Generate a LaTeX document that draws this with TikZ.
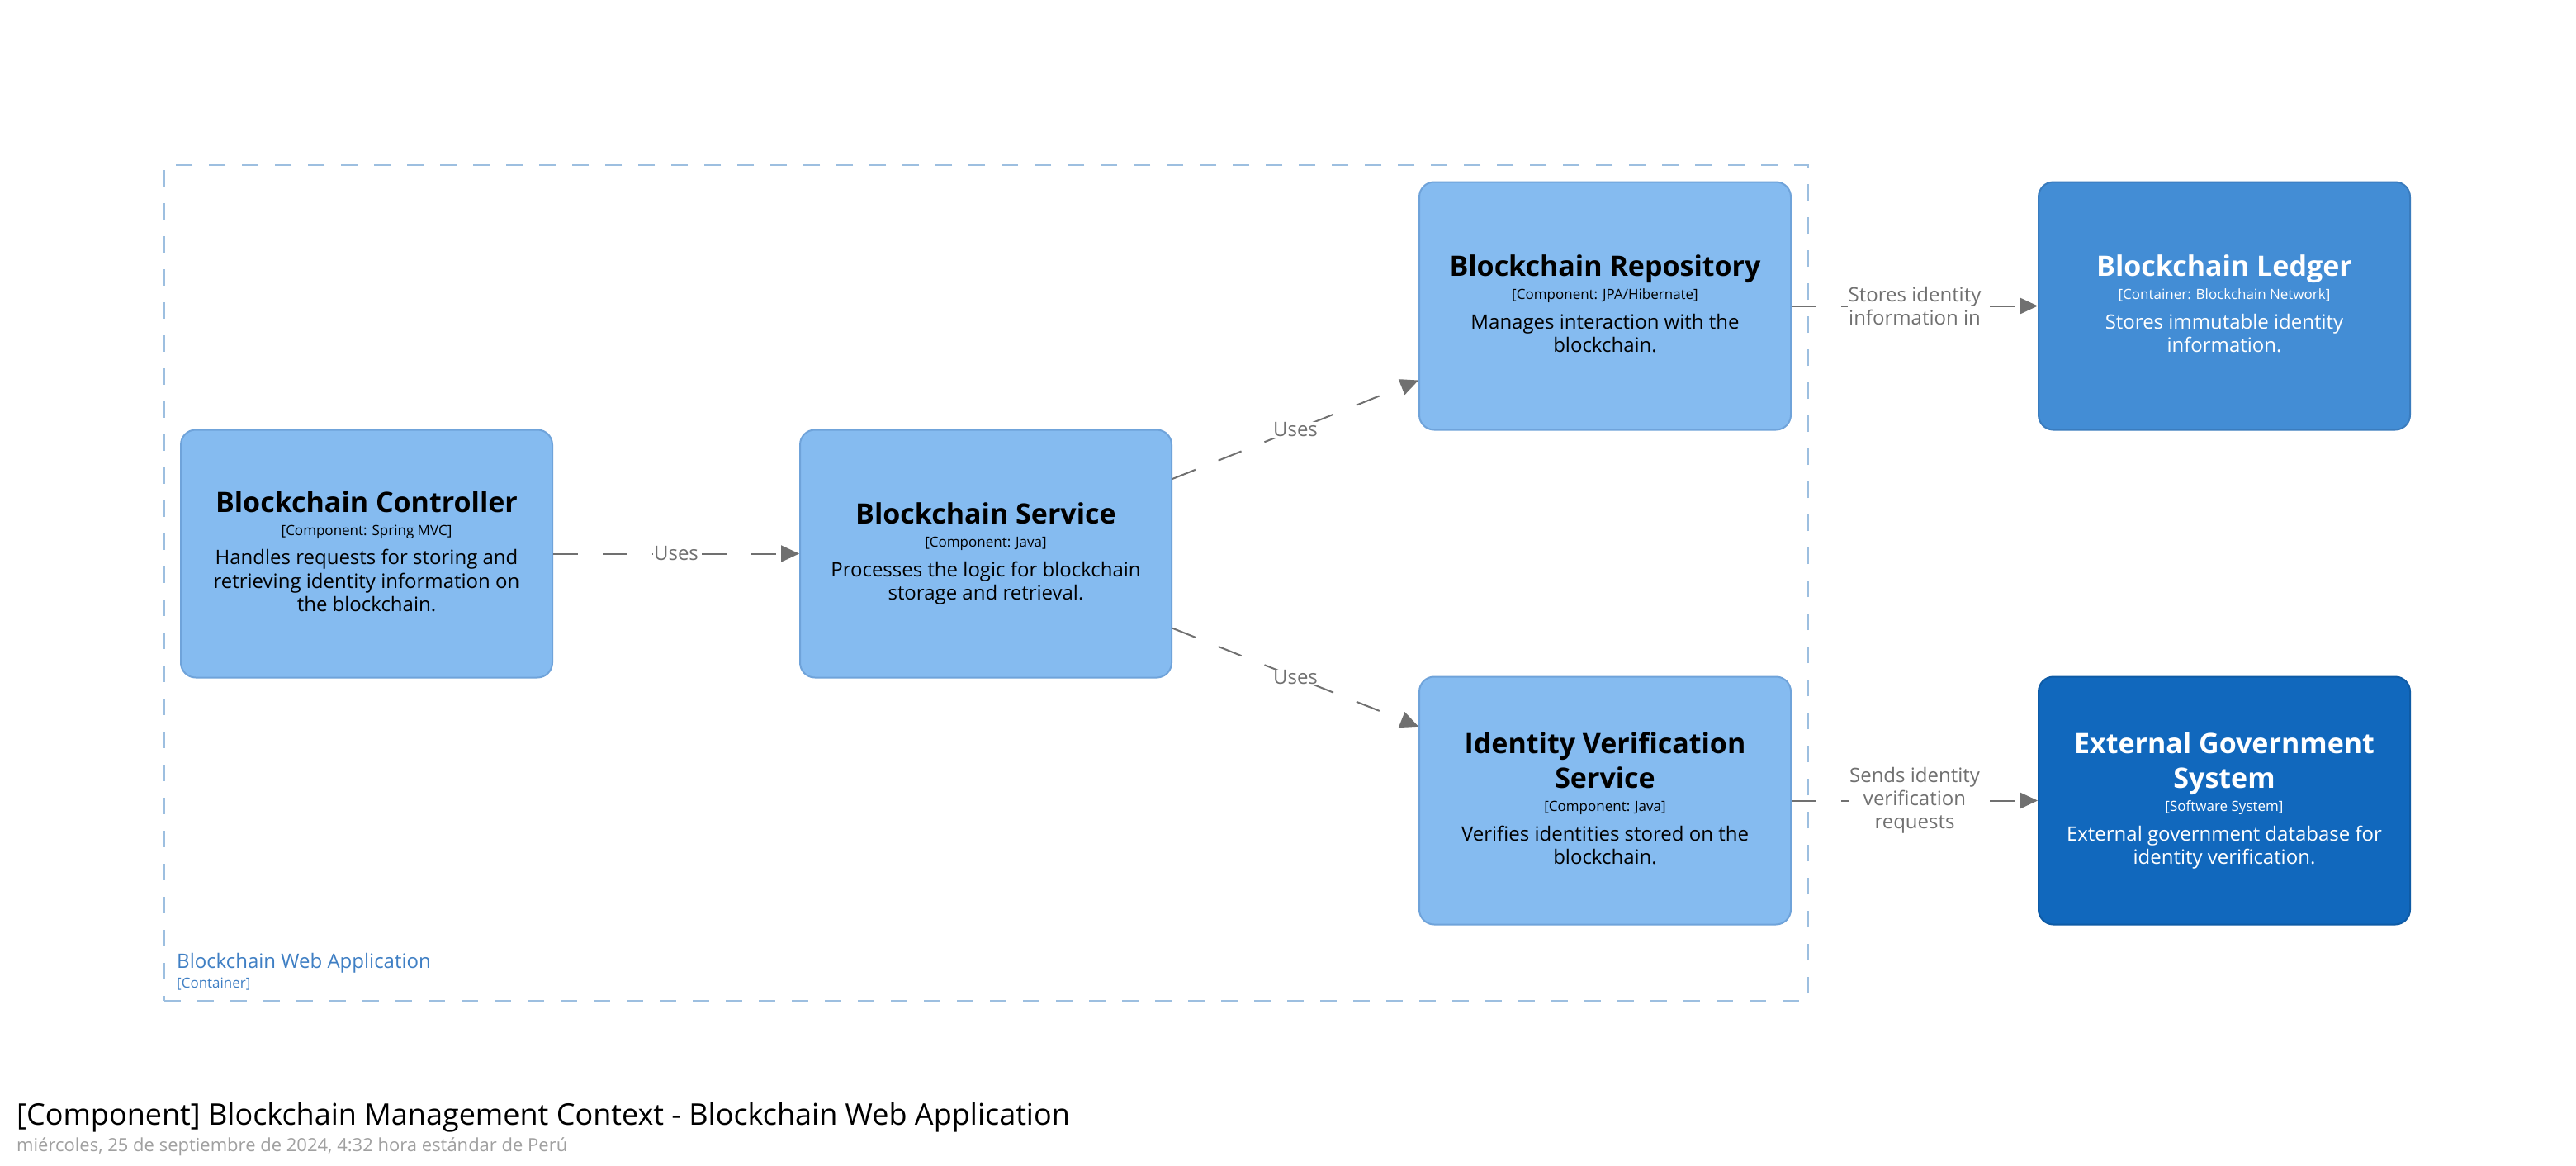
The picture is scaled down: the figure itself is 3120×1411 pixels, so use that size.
\documentclass[tikz,border=0pt]{standalone}
\usepackage{fontspec}
\setmainfont{Open Sans}
\usetikzlibrary{arrows.meta,calc}
\definecolor{comp}{HTML}{85BBF0}
\definecolor{compb}{HTML}{6FA3DA}
\definecolor{cont}{HTML}{438DD5}
\definecolor{contb}{HTML}{3A7CBE}
\definecolor{ext}{HTML}{1168BD}
\definecolor{extb}{HTML}{0E5BA6}
\definecolor{relc}{HTML}{707070}
\definecolor{bnd}{HTML}{9DBFE0}
\definecolor{bndtxt}{HTML}{3F7FC4}
\definecolor{datec}{HTML}{A0A0A0}
\tikzset{
  box/.style={draw, line width=2pt, rounded corners=18pt, minimum width=450pt, minimum height=300pt, inner sep=0pt},
  compbox/.style={box, fill=comp, draw=compb},
  contbox/.style={box, fill=cont, draw=contb},
  extbox/.style={box, fill=ext, draw=extb},
  ttl/.style={anchor=base, inner sep=0pt, font=\fontsize{34}{42}\selectfont\bfseries},
  tch/.style={anchor=base, inner sep=0pt, font=\fontsize{17}{21}\selectfont},
  dsc/.style={anchor=base, inner sep=0pt, font=\fontsize{24}{29}\selectfont},
  relline/.style={draw=relc, line width=2pt, dash pattern=on 30pt off 30pt, -{Triangle[length=22pt,width=20pt]}},
  lbl/.style={fill=white, text=relc, font=\fontsize{24}{28}\selectfont, align=center, inner sep=1pt},
}
\begin{document}
\begin{tikzpicture}[x=1pt,y=-1pt]
\useasboundingbox[fill=white] (0,0) rectangle (3120,1411);

% container boundary
\node[draw=bnd, line width=2pt, dash pattern=on 20pt off 20pt, minimum width=1991pt, minimum height=1012pt, inner sep=0pt] (bound) at (1194.5,706) {};
\node[anchor=base west, inner sep=0pt, text=bndtxt, font=\fontsize{24}{28}\selectfont] (bname) at (214,1172) {Blockchain Web Application};
\node[anchor=base west, inner sep=0pt, text=bndtxt, font=\fontsize{17}{21}\selectfont] (btype) at (214,1196) {[Container]};

% boxes
\node[compbox] (ctrl) at (444,670.5) {};
\node[compbox] (svc) at (1194,670.5) {};
\node[compbox] (repo) at (1944,370.5) {};
\node[compbox] (idv) at (1944,969.5) {};
\node[contbox] (ledger) at (2694,370.5) {};
\node[extbox] (extg) at (2694,969.5) {};

% controller text
\node[ttl] (ctrlT) at ($(ctrl.center)+(0,-50.5)$) {Blockchain Controller};
\node[tch] (ctrlK) at ($(ctrl.center)+(0,-22.5)$) {[Component: Spring MVC]};
\node[dsc] (ctrlD1) at ($(ctrl.center)+(0,13)$) {Handles requests for storing and};
\node[dsc] (ctrlD2) at ($(ctrl.center)+(0,41.7)$) {retrieving identity information on};
\node[dsc] (ctrlD3) at ($(ctrl.center)+(0,70.4)$) {the blockchain.};

% service text
\node[ttl] (svcT) at ($(svc.center)+(0,-36)$) {Blockchain Service};
\node[tch] (svcK) at ($(svc.center)+(0,-8)$) {[Component: Java]};
\node[dsc] (svcD1) at ($(svc.center)+(0,27.5)$) {Processes the logic for blockchain};
\node[dsc] (svcD2) at ($(svc.center)+(0,56.2)$) {storage and retrieval.};

% repository text
\node[ttl] (repoT) at ($(repo.center)+(0,-36)$) {Blockchain Repository};
\node[tch] (repoK) at ($(repo.center)+(0,-8)$) {[Component: JPA/Hibernate]};
\node[dsc] (repoD1) at ($(repo.center)+(0,27.5)$) {Manages interaction with the};
\node[dsc] (repoD2) at ($(repo.center)+(0,56.2)$) {blockchain.};

% identity verification text
\node[ttl] (idvT1) at ($(idv.center)+(0,-57)$) {Identity Verification};
\node[ttl] (idvT2) at ($(idv.center)+(0,-15)$) {Service};
\node[tch] (idvK) at ($(idv.center)+(0,13)$) {[Component: Java]};
\node[dsc] (idvD1) at ($(idv.center)+(0,48.5)$) {Verifies identities stored on the};
\node[dsc] (idvD2) at ($(idv.center)+(0,77.2)$) {blockchain.};

% ledger text
\node[ttl, text=white] (ledT) at ($(ledger.center)+(0,-36)$) {Blockchain Ledger};
\node[tch, text=white] (ledK) at ($(ledger.center)+(0,-8)$) {[Container: Blockchain Network]};
\node[dsc, text=white] (ledD1) at ($(ledger.center)+(0,27.5)$) {Stores immutable identity};
\node[dsc, text=white] (ledD2) at ($(ledger.center)+(0,56.2)$) {information.};

% external text
\node[ttl, text=white] (extT1) at ($(extg.center)+(0,-57)$) {External Government};
\node[ttl, text=white] (extT2) at ($(extg.center)+(0,-15)$) {System};
\node[tch, text=white] (extK) at ($(extg.center)+(0,13)$) {[Software System]};
\node[dsc, text=white] (extD1) at ($(extg.center)+(0,48.5)$) {External government database for};
\node[dsc, text=white] (extD2) at ($(extg.center)+(0,77.2)$) {identity verification.};

% relationships
\draw[relline] (ctrl) -- node[lbl] (l1) {Uses} (svc);
\draw[relline] (svc) -- node[lbl] (l2) {Uses} (repo);
\draw[relline] (svc) -- node[lbl] (l3) {Uses} (idv);
\draw[relline] (repo) -- node[lbl] (l4) {Stores identity\\information in} (ledger);
\draw[relline] (idv) -- node[lbl] (l5) {Sends identity\\verification\\requests} (extg);

% title
\node[anchor=base west, inner sep=0pt, font=\fontsize{36}{42}\selectfont] (title) at (20,1362) {[Component] Blockchain Management Context - Blockchain Web Application};
\node[anchor=base west, inner sep=0pt, text=datec, font=\fontsize{22}{26}\selectfont] (date) at (20,1394) {miércoles, 25 de septiembre de 2024, 4:32 hora estándar de Perú};
\end{tikzpicture}
\end{document}
